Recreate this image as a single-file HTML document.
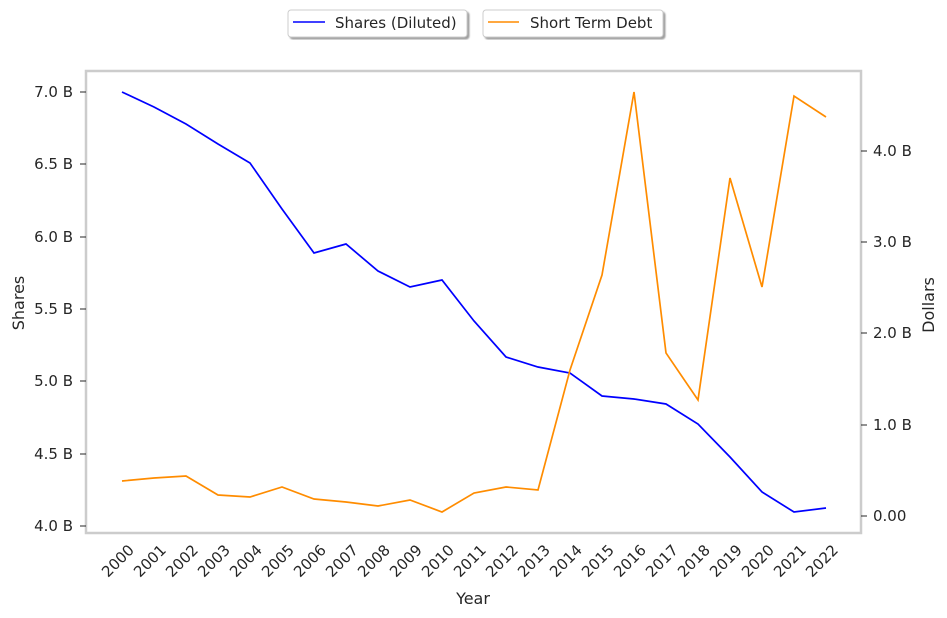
<!DOCTYPE html>
<html><head><style>body{margin:0;background:#fff}svg{display:block;font-family:"DejaVu Sans","Liberation Sans",sans-serif}</style></head><body>
<svg width="947" height="618" xmlns="http://www.w3.org/2000/svg">
<defs><filter id="sh"><feDropShadow dx="2" dy="2" stdDeviation="0.8" flood-color="#888" flood-opacity="0.8"/></filter></defs>
<rect x="288" y="10" width="179" height="27" rx="3" fill="#fff" stroke="#ccc" filter="url(#sh)"/>
<line x1="293" y1="22" x2="325" y2="22" stroke="#0000ff" stroke-width="1.5"/>
<text x="335" y="28" font-size="15" fill="#262626">Shares (Diluted)</text>
<rect x="483" y="10" width="180" height="27" rx="3" fill="#fff" stroke="#ccc" filter="url(#sh)"/>
<line x1="488" y1="22" x2="519" y2="22" stroke="#ff8c00" stroke-width="1.5"/>
<text x="530" y="28" font-size="15" fill="#262626">Short Term Debt</text>
<rect x="86" y="71" width="775" height="462" fill="none" stroke="#ccc" stroke-width="2.5"/>
<g font-size="15" fill="#262626" text-anchor="end">
<text x="73" y="97">7.0 B</text><text x="73" y="169">6.5 B</text><text x="73" y="242">6.0 B</text><text x="73" y="314">5.5 B</text><text x="73" y="386">5.0 B</text><text x="73" y="459">4.5 B</text><text x="73" y="531">4.0 B</text>
</g>
<g stroke="#262626"><line x1="80" y1="92" x2="86" y2="92"/><line x1="80" y1="164" x2="86" y2="164"/><line x1="80" y1="237" x2="86" y2="237"/><line x1="80" y1="309" x2="86" y2="309"/><line x1="80" y1="381" x2="86" y2="381"/><line x1="80" y1="454" x2="86" y2="454"/><line x1="80" y1="526" x2="86" y2="526"/>
<line x1="861" y1="516" x2="867" y2="516"/><line x1="861" y1="425" x2="867" y2="425"/><line x1="861" y1="333" x2="867" y2="333"/><line x1="861" y1="242" x2="867" y2="242"/><line x1="861" y1="151" x2="867" y2="151"/></g>
<g font-size="15" fill="#262626">
<text x="873" y="521">0.00</text><text x="873" y="430">1.0 B</text><text x="873" y="338">2.0 B</text><text x="873" y="247">3.0 B</text><text x="873" y="156">4.0 B</text>
</g>
<text transform="translate(24,303) rotate(-90)" font-size="16" fill="#262626" text-anchor="middle">Shares</text>
<text transform="translate(934,305) rotate(-90)" font-size="16" fill="#262626" text-anchor="middle">Dollars</text>
<text x="473" y="604" font-size="16" fill="#262626" text-anchor="middle">Year</text>
<g font-size="15" fill="#262626" text-anchor="end" id="yrs"></g>
<polyline fill="none" stroke="#0000ff" stroke-width="1.7" points="122,92 154,107 186,124 218,144 250,163 282,209 314,253 346,244 378,271 410,287 442,280 474,321 506,357 538,367 570,373 602,396 634,399 666,404 698,424 730,457 762,492 794,512 826,508"/>
<polyline fill="none" stroke="#ff8c00" stroke-width="1.7" points="122,481 154,478 186,476 218,495 250,497 282,487 314,499 346,502 378,506 410,500 442,512 474,493 506,487 538,490 570,370 602,275 634,92 666,353 698,400 730,178 762,287 794,96 826,117"/>
</svg>
<script>
var g=document.getElementById('yrs'),s='';
for(var i=0;i<23;i++){var x=122+32*i;s+='<text transform="translate('+(x+13)+',551) rotate(-45)">'+(2000+i)+'</text>';}
g.innerHTML=s;
</script>
</body></html>
